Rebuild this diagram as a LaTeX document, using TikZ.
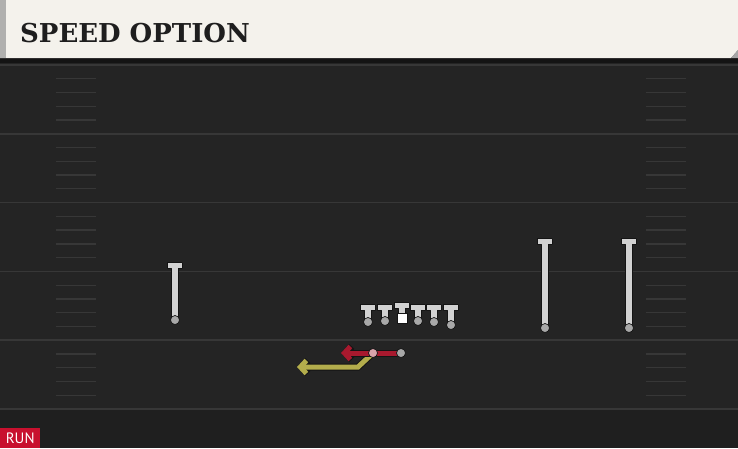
\documentclass[tikz,border=0pt]{standalone}
\usepackage{fontspec}
\usetikzlibrary{arrows.meta}
\newfontfamily\titlefont{DejaVu Serif}
\newfontfamily\tagfont{PT Sans}
\definecolor{fieldbg}{HTML}{242424}
\definecolor{fielddk}{HTML}{1F1F1F}
\definecolor{yardgray}{HTML}{373737}
\definecolor{headbg}{HTML}{F4F2EC}
\definecolor{headedge}{HTML}{B0B0AE}
\definecolor{titleink}{HTML}{1E1E1E}
\definecolor{plgray}{HTML}{D2D2D2}
\definecolor{plout}{HTML}{141414}
\definecolor{footgray}{HTML}{A8A8A8}
\definecolor{rbpink}{HTML}{D9A3AB}
\definecolor{crimson}{HTML}{A8192E}
\definecolor{sand}{HTML}{B3AD4C}
\definecolor{runred}{HTML}{C8102E}
\pgfdeclarelayer{field}
\pgfdeclarelayer{routes}
\pgfsetlayers{field,routes,main}
\begin{document}
\begin{tikzpicture}[x=1pt,y=-1pt,line join=round,line cap=butt,
    yardline/.style={draw=yardgray,line width=1.6pt},
    hash/.style={draw=yardgray,line width=1.3pt},
    body/.style={fill=plgray,draw=plout,line width=1pt},
    foot/.style={fill=footgray,draw=plout,line width=0.7pt},
    route/.style={line width=5pt,-{Straight Barb[length=6pt,width=13pt]},preaction={draw=plout,line width=7pt}},
    spot/.style={circle,inner sep=0pt,minimum size=9pt,draw=plout,line width=0.7pt}]
    \useasboundingbox (0,0) rectangle (738,448);
    \begin{pgfonlayer}{field}
        \fill[fieldbg] (0,0) rectangle (738,448);
        \fill[fielddk] (0,409) rectangle (738,448);
        % yard lines and hash marks
        \foreach \k in {0,...,5}
            \draw[yardline] (0,65+68.8*\k) -- (738,65+68.8*\k);
        \foreach \k in {0,...,4}
            \foreach \j in {1,...,4}{
                \draw[hash] (56,65+68.8*\k+13.76*\j) -- (96,65+68.8*\k+13.76*\j);
                \draw[hash] (646,65+68.8*\k+13.76*\j) -- (686,65+68.8*\k+13.76*\j);
            }
        % header
        \fill[black!92] (0,58) rectangle (738,63);
        \fill[headbg] (0,0) -- (738,0) -- (738,50) -- (731,58) -- (0,58) -- cycle;
        \fill[headedge] (0,0) rectangle (6,58);
        \fill[gray!70] (738,50) -- (738,58) -- (731,58) -- cycle;
    \end{pgfonlayer}
    \node[anchor=base west,inner sep=0pt,text=titleink,font=\titlefont\bfseries\fontsize{26}{26}\selectfont] (title) at (20,42) {SPEED OPTION};
    % players
    \foreach \x/\t/\b in {175/262/320,545/238/328,629/238/328,368/304/322,385/304/321,418/304/321,434/304/322,451/304/325,402/302/314}{
        \draw[body] (\x-7.5,\t) -- (\x+7.5,\t) -- (\x+7.5,\t+6.5) -- (\x+3.5,\t+6.5) -- (\x+3.5,\b) -- (\x-3.5,\b) -- (\x-3.5,\t+6.5) -- (\x-7.5,\t+6.5) -- cycle;
    }
    \foreach \x/\b in {175/320,545/328,629/328,368/322,385/321,418/321,434/322,451/325}
        \draw[foot] (\x,\b) circle (4.5);
    \draw[fill=white,draw=plout,line width=1pt] (397,313) rectangle (407,323);
    % backs and routes
    \node[spot,fill=footgray] (qb) at (401,353) {};
    \node[spot,fill=rbpink] (rb) at (373,353) {};
    \coordinate (qbend) at (341,353);
    \coordinate (rbcut) at (358,367);
    \coordinate (rbend) at (297,367);
    \begin{pgfonlayer}{routes}
        \draw[route,draw=sand] (rb.center) -- (rbcut) -- (rbend);
        \draw[route,draw=crimson] (qb.center) -- (qbend);
    \end{pgfonlayer}
    \node[anchor=south west,fill=runred,text=white,minimum width=40pt,minimum height=20pt,inner sep=0pt,font=\tagfont\fontsize{15}{15}\selectfont] (tag) at (0,448) {RUN};
\end{tikzpicture}
\end{document}
